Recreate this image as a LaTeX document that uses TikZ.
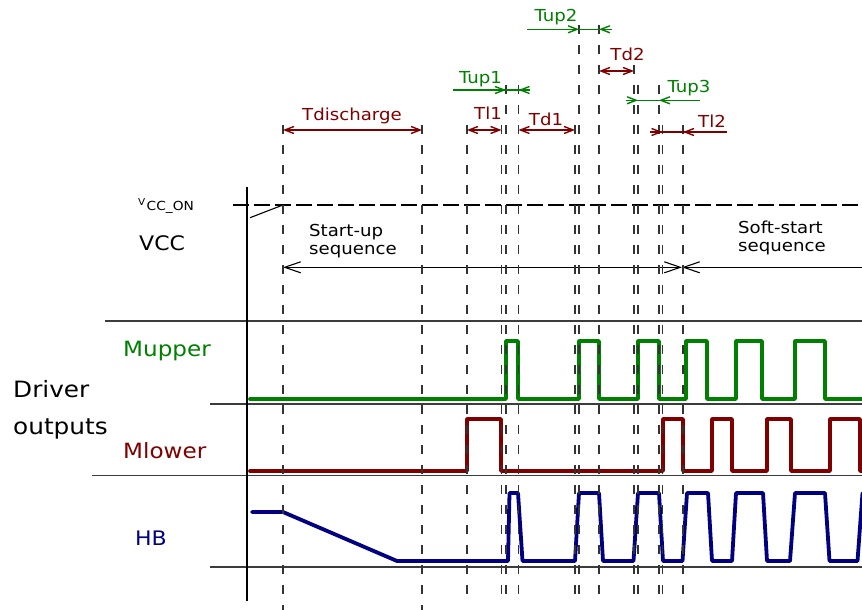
\documentclass[tikz,border=0pt]{standalone}
\usepackage{fontspec}
\setmainfont{DejaVu Sans}[FakeStretch=1.1]
\usetikzlibrary{arrows.meta}
\definecolor{sgreen}{RGB}{0,128,0}
\definecolor{sred}{RGB}{128,0,0}
\definecolor{sblue}{RGB}{0,0,128}
\definecolor{gridc}{RGB}{60,60,60}
\tikzset{
  smalllbl/.style={font=\fontsize{16.5}{18}\selectfont, inner sep=0pt, anchor=base},
  seqlbl/.style={font=\fontsize{16.5}{18}\selectfont, inner sep=0pt, anchor=base west},
  biglbl/.style={font=\fontsize{21}{23}\selectfont, inner sep=0pt, anchor=base west},
  guide/.style={draw=black!80, line width=1.3pt, dash pattern=on 9pt off 11pt},
  axline/.style={draw=gridc, line width=1.4pt},
  sig/.style={line width=3.8pt, line join=round, line cap=round},
  dimr/.style={draw=sred, line width=1.4pt, >={Straight Barb[length=9pt,width=7pt]}},
  dimg/.style={draw=sgreen, line width=1.4pt, >={Straight Barb[length=9pt,width=7pt]}},
  seqarr/.style={draw=black, line width=1.1pt, >={Straight Barb[length=16pt,width=11pt]}},
}
\begin{document}
\begin{tikzpicture}[x=1pt,y=-1pt]
\fill[white] (0,0) rectangle (862,610);
\useasboundingbox (0,0) rectangle (862,610);

% axes
\draw[axline] (105,321) -- (862,321);
\draw[axline] (210,404) -- (862,404);
\draw[axline] (92,475.7) -- (862,475.7);
\draw[axline] (210,567) -- (862,567);
\draw[draw=black, line width=1.4pt] (247,187) -- (247,601);

% VCC
\coordinate (vona) at (233,205);
\coordinate (vonb) at (862,205);
\draw[black, line width=1.3pt, dash pattern=on 16pt off 5pt] (vona) -- (vonb);
\coordinate (rampa) at (250,217.7);
\coordinate (rampb) at (283,205);
\draw[black, line width=1.1pt] (rampa) -- (rampb);

% sequence arrows
\coordinate (su1) at (283,267.3);
\coordinate (su2) at (682,267.3);
\coordinate (su3) at (862,267.3);
\draw[seqarr,<->] (su1) -- (su2);
\draw[seqarr,<-] (su2) -- (su3);

% signals
\draw[sig, sgreen] (250,399) -- (506,399) -- (506,341) -- (518,341) -- (518,399)
  -- (579,399) -- (579,341) -- (599,341) -- (599,399)
  -- (638,399) -- (638,341) -- (659,341) -- (659,399)
  -- (686,399) -- (686,341) -- (707,341) -- (707,399)
  -- (736,399) -- (736,341) -- (762,341) -- (762,399)
  -- (795,399) -- (795,341) -- (825,341) -- (825,399) -- (864,399);
\draw[sig, sred] (250,471) -- (467,471) -- (467,419) -- (501,419) -- (501,471)
  -- (663,471) -- (663,419) -- (683,419) -- (683,471)
  -- (712,471) -- (712,419) -- (732,419) -- (732,471)
  -- (767,471) -- (767,419) -- (791,419) -- (791,471)
  -- (830,471) -- (830,419) -- (860,419) -- (860,471) -- (864,471);
\draw[sig, sblue] (252,512) -- (283,512) -- (397,561) -- (508,561) -- (509.5,493) -- (518,493) -- (522.5,561)
  -- (575,561) -- (579,493) -- (599,493) -- (603,561)
  -- (633.5,561) -- (638,493) -- (659,493) -- (663,561)
  -- (682.5,561) -- (687,493) -- (708,493) -- (712,561)
  -- (732,561) -- (736,493) -- (763,493) -- (767,561)
  -- (790,561) -- (795,493) -- (825,493) -- (829.5,561)
  -- (857.5,561) -- (862.5,493);

% dashed guides
\foreach \x/\t/\b in {283/125/610, 422/125/610, 467/125/601, 501.5/125/601, 506/85/601,
  518.5/85/601, 575/125/601, 579/25/601, 599/25/601, 634/65/601, 638/85/601,
  659/85/601, 662.5/125/601, 683/125/601}
  \draw[guide] (\x,\t) -- (\x,\b);

% dimension arrows (red)
\coordinate (tdA) at (283,130); \coordinate (tdB) at (422,130);
\draw[dimr,<->] (tdA) -- (tdB);
\coordinate (tl1A) at (467,130); \coordinate (tl1B) at (501.5,130);
\draw[dimr,<->] (tl1A) -- (tl1B);
\coordinate (td1A) at (518.5,130); \coordinate (td1B) at (575,130);
\draw[dimr,<->] (td1A) -- (td1B);
\coordinate (td2A) at (599,71); \coordinate (td2B) at (634,71);
\draw[dimr,<->] (td2A) -- (td2B);
\coordinate (tl2S) at (650,132); \coordinate (tl2a) at (662.5,132);
\coordinate (tl2b) at (683,132); \coordinate (tl2E) at (727,132);
\draw[dimr] (tl2S) -- (tl2E);
\draw[dimr,->] (tl2S) -- (tl2a);
\draw[dimr,->] (tl2E) -- (tl2b);

% dimension arrows (green)
\coordinate (u1S) at (453,90); \coordinate (u1a) at (506,90);
\coordinate (u1b) at (518.5,90); \coordinate (u1E) at (530,90);
\draw[dimg] (u1S) -- (u1E);
\draw[dimg,->] (u1S) -- (u1a);
\draw[dimg,->] (u1E) -- (u1b);
\coordinate (u2S) at (527,29.3); \coordinate (u2a) at (579,29.3);
\coordinate (u2b) at (599,29.3); \coordinate (u2E) at (612,29.3);
\draw[dimg] (u2S) -- (u2E);
\draw[dimg,->] (u2S) -- (u2a);
\draw[dimg,->] (u2E) -- (u2b);
\coordinate (u3S) at (625.7,100.3); \coordinate (u3a) at (638,100.3);
\coordinate (u3b) at (659,100.3); \coordinate (u3E) at (700,100.3);
\draw[dimg] (u3S) -- (u3E);
\draw[dimg,->] (u3S) -- (u3a);
\draw[dimg,->] (u3E) -- (u3b);

% labels
\node[smalllbl, text=sred] (Ltdis) at (352,120) {Tdischarge};
\node[smalllbl, text=sred] (Ltl1) at (488,119.5) {Tl1};
\node[smalllbl, text=sred] (Ltd1) at (546,125) {Td1};
\node[smalllbl, text=sred] (Ltd2) at (627.5,60.7) {Td2};
\node[smalllbl, text=sred] (Ltl2) at (712,127.3) {Tl2};
\node[smalllbl, text=sgreen] (Ltup1) at (480.5,83.3) {Tup1};
\node[smalllbl, text=sgreen] (Ltup2) at (556,21.7) {Tup2};
\node[smalllbl, text=sgreen] (Ltup3) at (689,92.7) {Tup3};

\node[seqlbl] (Lsu1) at (309,236.7) {Start-up};
\node[seqlbl] (Lsu2) at (309,254) {sequence};
\node[seqlbl] (Lss1) at (738,233.3) {Soft-start};
\node[seqlbl] (Lss2) at (738,251.7) {sequence};

\node[anchor=base west, inner sep=0pt, font=\fontsize{9.5}{10}\selectfont] (Lv) at (138,205) {V};
\node[anchor=base west, inner sep=0pt, font=\fontsize{12.5}{13}\selectfont] (Lccon) at (146.5,210.7) {CC\_ON};
\node[biglbl, font=\fontsize{20}{22}\selectfont] (Lvcc) at (139,250.7) {VCC};

\node[biglbl, text=sgreen] (Lmup) at (123,356) {Mupper};
\node[biglbl, font=\fontsize{22.5}{24}\selectfont] (Ldrv) at (13,397) {Driver};
\node[biglbl, font=\fontsize{22.5}{24}\selectfont] (Lout) at (13,434) {outputs};
\node[biglbl, text=sred] (Lmlo) at (123,458.3) {Mlower};
\node[biglbl, text=sblue, font=\fontsize{20}{22}\selectfont] (Lhb) at (135,545) {HB};
\end{tikzpicture}
\end{document}
